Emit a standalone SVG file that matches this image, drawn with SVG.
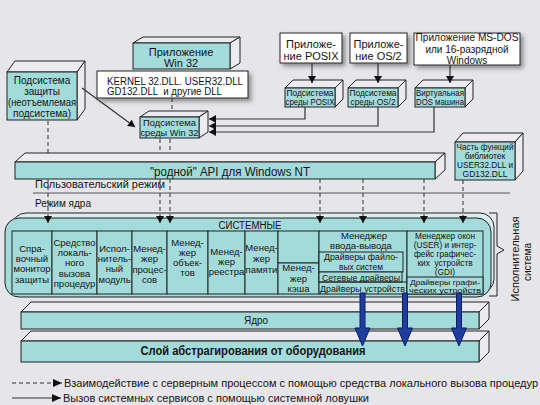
<svg xmlns="http://www.w3.org/2000/svg" width="540" height="405" viewBox="0 0 540 405">
<defs>
<style>
text{font-family:"Liberation Sans",Arial,"DejaVu Sans",sans-serif;fill:#141414}
.f{fill:#ececf0;stroke:#222;stroke-width:1;stroke-linejoin:round}
.tl{fill:#a3dada;stroke:#222;stroke-width:1}
.w{fill:#fff;stroke:#222;stroke-width:1}
.d{fill:none;stroke:#333;stroke-width:1;stroke-dasharray:4 3}
.s{fill:none;stroke:#333;stroke-width:1.2}
.c{text-anchor:middle}
.a8{font-size:8.5px}
.a85{font-size:8.3px}
.a9{font-size:9.5px}
.a10{font-size:10px}
.a11{font-size:11px}
.blue{fill:#1f3d9c;stroke:#0c1d63;stroke-width:1}
</style>
<marker id="ah" viewBox="0 0 7 8" refX="7" refY="4" markerWidth="7" markerHeight="8" markerUnits="userSpaceOnUse" orient="auto"><path d="M0,0L7,4L0,8z" fill="#111"/></marker>
<marker id="ahl" viewBox="0 0 9 8" refX="9" refY="4" markerWidth="9" markerHeight="8" markerUnits="userSpaceOnUse" orient="auto"><path d="M0,0L9,4L0,8z" fill="#111"/></marker>
<filter id="sh" x="-10%" y="-15%" width="130%" height="150%"><feDropShadow dx="3" dy="3" stdDeviation="2" flood-color="#555" flood-opacity="0.6"/></filter>
</defs>
<rect x="0" y="0" width="540" height="405" fill="#e6e6ea"/>

<!-- Security subsystem -->
<g id="security">
<polygon class="f" points="7,72 15,61 85,61 77,72"/>
<polygon class="f" points="77,72 85,61 85,109 77,120"/>
<rect class="tl" x="7" y="72" width="70" height="48"/>
<text class="c a10" x="42" y="84">Подсистема</text>
<text class="c a10" x="42" y="95">защиты</text>
<text class="c a10" x="42" y="106" textLength="68" lengthAdjust="spacingAndGlyphs">(неотъемлемая</text>
<text class="c a10" x="42" y="117">подсистема)</text>
</g>

<!-- Win32 application -->
<g id="app-win32">
<polygon class="f" points="133,43 143,37 240,37 230,43"/>
<polygon class="f" points="230,43 240,37 240,63 230,69"/>
<rect class="tl" x="133" y="43" width="97" height="26"/>
<text class="c a11" x="181" y="56">Приложение</text>
<text class="c a11" x="181" y="67">Win 32</text>
</g>

<!-- DLLs -->
<g id="dlls">
<rect class="w" x="97" y="71" width="151" height="27" filter="url(#sh)"/>
<text class="a10" x="107" y="85" textLength="136" lengthAdjust="spacingAndGlyphs">KERNEL 32.DLL. USER32.DLL</text>
<text class="a10" x="107" y="95" xml:space="preserve" textLength="115" lengthAdjust="spacingAndGlyphs">GD132.DLL  и другие DLL</text>
</g>

<!-- Win32 subsystem -->
<g id="sub-win32">
<polygon class="f" points="140,117 149,111 208,111 199,117"/>
<polygon class="f" points="199,117 208,111 208,132 199,138"/>
<rect class="tl" x="140" y="117" width="59" height="21"/>
<text class="c a9" x="169.5" y="126" textLength="53" lengthAdjust="spacingAndGlyphs">Подсистема</text>
<text class="c a9" x="169.5" y="136" textLength="58" lengthAdjust="spacingAndGlyphs">среды Win 32</text>
</g>

<!-- POSIX app -->
<g id="app-posix">
<rect class="w" x="280" y="33" width="62" height="30" filter="url(#sh)"/>
<text class="c a11" x="311" y="48">Приложе-</text>
<text class="c a11" x="311" y="60">ние POSIX</text>
</g>
<g id="app-os2">
<rect class="w" x="350" y="33" width="57" height="30" filter="url(#sh)"/>
<text class="c a11" x="378.5" y="48">Приложе-</text>
<text class="c a11" x="378.5" y="60">ние OS/2</text>
</g>
<g id="app-dos">
<rect class="w" x="414" y="33" width="106" height="32" filter="url(#sh)"/>
<text class="c a10" x="467" y="41" textLength="103" lengthAdjust="spacingAndGlyphs">Приложение MS-DOS</text>
<text class="c a10" x="467" y="53">или 16-разрядной</text>
<text class="c a10" x="467" y="64">Windows</text>
</g>

<!-- subsystems -->
<g id="sub-posix">
<polygon class="f" points="285,88 293,80 343,80 335,88"/>
<polygon class="f" points="335,88 343,80 343,99 335,107"/>
<rect class="tl" x="285" y="88" width="50" height="19"/>
<text class="c a8" x="310" y="96" textLength="47" lengthAdjust="spacingAndGlyphs">Подсистема</text>
<text class="c a8" x="310" y="105" textLength="49" lengthAdjust="spacingAndGlyphs">среды POSIX</text>
</g>
<g id="sub-os2">
<polygon class="f" points="348,88 356,80 406,80 398,88"/>
<polygon class="f" points="398,88 406,80 406,99 398,107"/>
<rect class="tl" x="348" y="88" width="50" height="19"/>
<text class="c a8" x="373" y="96" textLength="47" lengthAdjust="spacingAndGlyphs">Подсистема</text>
<text class="c a8" x="373" y="105" textLength="45" lengthAdjust="spacingAndGlyphs">среды OS/2</text>
</g>
<g id="sub-dos">
<polygon class="f" points="415,88 423,80 473,80 465,88"/>
<polygon class="f" points="465,88 473,80 473,99 465,107"/>
<rect class="tl" x="415" y="88" width="50" height="19"/>
<text class="c a8" x="440" y="96" textLength="48" lengthAdjust="spacingAndGlyphs">Виртуальная</text>
<text class="c a8" x="440" y="105" textLength="48" lengthAdjust="spacingAndGlyphs">DOS машина</text>
</g>

<!-- USER32/GDI part -->
<g id="user-gdi-part">
<polygon class="f" points="455,142 463,133 523,133 515,142"/>
<polygon class="f" points="515,142 523,133 523,171 515,180"/>
<rect class="tl" x="455" y="142" width="60" height="38"/>
<text class="c a8" x="485" y="150" textLength="57" lengthAdjust="spacingAndGlyphs">Часть функций</text>
<text class="c a8" x="485" y="159">библиотек</text>
<text class="c a8" x="485" y="168" textLength="56" lengthAdjust="spacingAndGlyphs">USER32.DLL и</text>
<text class="c a8" x="485" y="177">GD132.DLL</text>
</g>

<!-- native API -->
<g id="native-api">
<polygon class="f" points="15,162 25,153 445,153 435,162"/>
<polygon class="f" points="435,162 445,153 445,170 435,179"/>
<rect class="tl" x="15" y="162" width="420" height="17"/>
<text class="c" x="230" y="176" font-size="12" textLength="160" lengthAdjust="spacingAndGlyphs">"родной" API для Windows NT</text>
</g>

<!-- mode labels -->
<g id="modes">
<text class="a10" x="35" y="188" textLength="130" lengthAdjust="spacingAndGlyphs">Пользовательский режим</text>
<line x1="33" y1="193" x2="510" y2="193" stroke="#555" stroke-width="1"/>
<text class="a10" x="35" y="207">Режим ядра</text>
</g>

<!-- Executive -->
<g id="executive">
<rect x="12" y="213" width="482" height="80" rx="14" fill="#d9eeee" stroke="#222"/>
<rect class="tl" x="5" y="218" width="486" height="79" rx="14"/>
<text class="c a10" x="250" y="229" textLength="63" lengthAdjust="spacingAndGlyphs">СИСТЕМНЫЕ</text>
</g>
<g id="ref-monitor">
<rect class="tl" x="12" y="231" width="40" height="63"/>
<text class="c a9" x="32"><tspan x="32" y="252">Спра-</tspan><tspan x="32" y="262">вочный</tspan><tspan x="32" y="272">монитор</tspan><tspan x="32" y="283">защиты</tspan></text>
</g>
<g id="lpc">
<rect class="tl" x="52" y="231" width="45" height="63"/>
<text class="c a9" x="74.5"><tspan x="74.5" y="246">Средство</tspan><tspan x="74.5" y="256">локаль-</tspan><tspan x="74.5" y="266">ного</tspan><tspan x="74.5" y="277">вызова</tspan><tspan x="74.5" y="287">процедур</tspan></text>
</g>
<g id="exec-module">
<rect class="tl" x="97" y="231" width="35" height="63"/>
<text class="c a9" x="114.5"><tspan x="114.5" y="252">Испол-</tspan><tspan x="114.5" y="262">нитель-</tspan><tspan x="114.5" y="272">ный</tspan><tspan x="114.5" y="283">модуль</tspan></text>
</g>
<g id="proc-mgr">
<rect class="tl" x="132" y="231" width="35" height="63"/>
<text class="c a9" x="149.5"><tspan x="149.5" y="252">Менед-</tspan><tspan x="149.5" y="262">жер</tspan><tspan x="149.5" y="273">процес-</tspan><tspan x="149.5" y="283">сов</tspan></text>
</g>
<g id="obj-mgr">
<rect class="tl" x="167" y="231" width="41" height="63"/>
<text class="c a9" x="187.5"><tspan x="187.5" y="246">Менед-</tspan><tspan x="187.5" y="256">жер</tspan><tspan x="187.5" y="266">объек-</tspan><tspan x="187.5" y="276">тов</tspan></text>
</g>
<g id="reg-mgr">
<rect class="tl" x="208" y="231" width="37" height="63"/>
<text class="c a9" x="226.5"><tspan x="226.5" y="255">Менед-</tspan><tspan x="226.5" y="265">жер</tspan><tspan x="226.5" y="275">реестра</tspan></text>
</g>
<g id="mem-mgr">
<rect class="tl" x="245" y="231" width="33" height="63"/>
<text class="c a9" x="261.5"><tspan x="261.5" y="251">Менед-</tspan><tspan x="261.5" y="262">жер</tspan><tspan x="261.5" y="273">памяти</tspan></text>
</g>
<g id="cache-mgr">
<rect class="tl" x="278" y="231" width="41" height="32"/>
<rect class="tl" x="278" y="263" width="41" height="31"/>
<text class="c a9" x="298.5"><tspan x="298.5" y="271">Менед-</tspan><tspan x="298.5" y="282">жер</tspan><tspan x="298.5" y="292">кэша</tspan></text>
</g>
<g id="io-mgr">
<rect class="tl" x="319" y="231" width="88" height="63"/>
<text class="c a9" x="363"><tspan x="364" y="239">Менеджер</tspan><tspan x="361" y="249">ввода-вывода</tspan></text>
<rect class="tl" x="319" y="252" width="84" height="20"/>
<text class="c a85" x="361"><tspan x="361" y="260" textLength="74" lengthAdjust="spacingAndGlyphs">Драйверы файло-</tspan><tspan x="361" y="269.5">вых систем</tspan></text>
<rect class="tl" x="319" y="272" width="83" height="10"/>
<text class="a85" x="322" y="280.5" textLength="78" lengthAdjust="spacingAndGlyphs">Сетевые драйверы</text>
<line x1="319" y1="282" x2="407" y2="282" stroke="#222"/>
<text class="a85" x="320" y="291.5" textLength="85" lengthAdjust="spacingAndGlyphs">Драйверы устройств</text>
</g>
<g id="win-mgr">
<rect class="tl" x="407" y="231" width="76" height="63"/>
<text class="c a85" x="445"><tspan x="445" y="239">Менеджер окон</tspan><tspan x="445" y="248">(USER) и интер-</tspan><tspan x="445" y="257">фейс графичес-</tspan><tspan x="445" y="266" xml:space="preserve">ких  устройств</tspan><tspan x="445" y="275">(GDI)</tspan></text>
<rect class="tl" x="407" y="277" width="76" height="17"/>
<text class="c" x="445" font-size="7.6px"><tspan x="445" y="284.5" textLength="70" lengthAdjust="spacingAndGlyphs">Драйверы графи-</tspan><tspan x="445" y="292.5" textLength="72" lengthAdjust="spacingAndGlyphs">ческих устройств</tspan></text>
</g>

<!-- executive bracket -->
<g id="exec-label">
<path d="M489,213 L497,213 L497,246 L504,250 L497,254 L497,296 L489,296" fill="none" stroke="#222" stroke-width="1"/>
<text class="c a10" transform="translate(519,259) rotate(-90)" textLength="85" lengthAdjust="spacingAndGlyphs">Исполнительная</text>
<text class="c a10" transform="translate(531,262) rotate(-90)">система</text>
</g>

<!-- Kernel -->
<g id="kernel">
<polygon class="f" points="21,312 31,302 489,302 479,312"/>
<polygon class="f" points="479,312 489,302 489,319 479,329"/>
<rect class="tl" x="21" y="312" width="458" height="17"/>
<text class="c a10" x="256" y="324">Ядро</text>
</g>

<!-- HAL -->
<g id="hal">
<polygon class="f" points="21,341 31,331 489,331 479,341"/>
<polygon class="f" points="479,341 489,331 489,352 479,362"/>
<rect class="tl" x="21" y="341" width="458" height="21"/>
<text class="c" x="253" y="355" font-size="12" font-weight="bold" textLength="225" lengthAdjust="spacingAndGlyphs">Слой абстрагирования от оборудования</text>
</g>

<!-- connectors -->
<g id="connectors">
<path class="d" d="M48,121V153"/>
<path class="d" d="M48,179V223" marker-end="url(#ah)"/>
<path class="d" d="M160,139V153"/>
<path class="d" d="M160,179V223" marker-end="url(#ah)"/>
<path class="d" d="M170,139V153"/>
<path class="d" d="M170,179V223" marker-end="url(#ah)"/>
<path class="d" d="M172,98V111"/>
<path class="d" d="M320,179V223" marker-end="url(#ah)"/>
<path class="d" d="M363,179V223" marker-end="url(#ah)"/>
<path class="d" d="M424,179V223" marker-end="url(#ah)"/>
<path class="d" d="M463,180V223" marker-end="url(#ah)"/>
<path class="s" d="M82,88L135,127" marker-end="url(#ah)"/>
<path class="s" d="M305,107V119H209" marker-end="url(#ah)"/>
<path class="s" d="M378,107V126H209" marker-end="url(#ah)"/>
<path class="s" d="M434,107V132H209" marker-end="url(#ah)"/>
<path class="s" d="M312,63V83" marker-end="url(#ah)"/>
<path class="s" d="M378,63V83" marker-end="url(#ah)"/>
<path class="s" d="M450,65V83" marker-end="url(#ah)"/>
<path class="blue" d="M360,293H365V328H370L362.5,346L355,328H360Z"/>
<path class="blue" d="M402.5,293H407.5V328H412.5L405,346L397.5,328H402.5Z"/>
<path class="blue" d="M456.5,293H461.5V328H466.5L459,346L451.5,328H456.5Z"/>
</g>

<!-- legend -->
<g id="legend">
<path class="d" d="M12,383H62" marker-end="url(#ahl)"/>
<text class="a10" x="64" y="387" textLength="474" lengthAdjust="spacingAndGlyphs">Взаимодействие с серверным процессом с помощью средства локального вызова процедур</text>
<path class="s" d="M12,398H61" marker-end="url(#ahl)"/>
<text class="a10" x="63" y="401.5" textLength="306" lengthAdjust="spacingAndGlyphs">Вызов системных сервисов с помощью системной ловушки</text>
</g>
</svg>
